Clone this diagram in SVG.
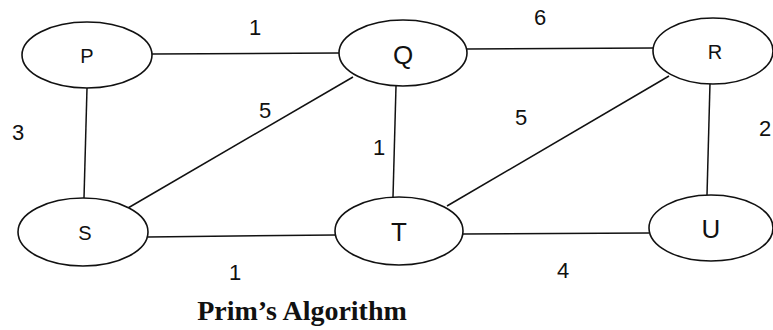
<svg xmlns="http://www.w3.org/2000/svg" width="773" height="330" viewBox="0 0 773 330">
<style>
.n ellipse{fill:#fff;stroke:#111;stroke-width:1.6}
.n text{font-family:"Liberation Sans",Arial,sans-serif;fill:#111;text-anchor:middle;dominant-baseline:central}
.s{font-size:20px}
.b{font-size:26px}
#edges line{stroke:#111;stroke-width:1.5}
.w{font-family:"Liberation Sans",Arial,sans-serif;font-size:22px;fill:#111;text-anchor:middle;dominant-baseline:central}
.cap{font-family:"Liberation Serif","Times New Roman",serif;font-weight:bold;font-size:28px;fill:#111;text-anchor:middle}
</style>
<rect width="773" height="330" fill="#fff"/>
<g id="edges">
<line x1="152" y1="54" x2="339" y2="53"/>
<line x1="467" y1="49" x2="653" y2="48"/>
<line x1="87" y1="88" x2="84" y2="198"/>
<line x1="353" y1="77" x2="128" y2="208"/>
<line x1="396" y1="86" x2="393" y2="197"/>
<line x1="669" y1="76" x2="447" y2="206"/>
<line x1="710" y1="83" x2="707" y2="195"/>
<line x1="148" y1="237" x2="335" y2="235"/>
<line x1="463" y1="234" x2="649" y2="233"/>
<text class="w" x="255" y="27">1</text>
<text class="w" x="540" y="17">6</text>
<text class="w" x="18" y="132">3</text>
<text class="w" x="265" y="110">5</text>
<text class="w" x="379" y="147">1</text>
<text class="w" x="521" y="117">5</text>
<text class="w" x="765" y="128">2</text>
<text class="w" x="235" y="272">1</text>
<text class="w" x="563" y="270">4</text>
</g>
<g id="P" class="n"><ellipse cx="87" cy="55" rx="65" ry="33"/><text class="s" x="87" y="56">P</text></g>
<g id="Q" class="n"><ellipse cx="403" cy="53" rx="64" ry="33"/><text class="b" x="403" y="55">Q</text></g>
<g id="R" class="n"><ellipse cx="713" cy="51" rx="60" ry="33"/><text class="s" x="715" y="52">R</text></g>
<g id="S" class="n"><ellipse cx="83" cy="232" rx="65" ry="34"/><text class="s" x="85" y="233">S</text></g>
<g id="T" class="n"><ellipse cx="399" cy="231" rx="64" ry="34"/><text class="b" x="399" y="232">T</text></g>
<g id="U" class="n"><ellipse cx="711" cy="228" rx="62" ry="33"/><text class="b" x="711" y="229">U</text></g>
<text class="cap" x="302" y="320">Prim’s Algorithm</text>
</svg>
